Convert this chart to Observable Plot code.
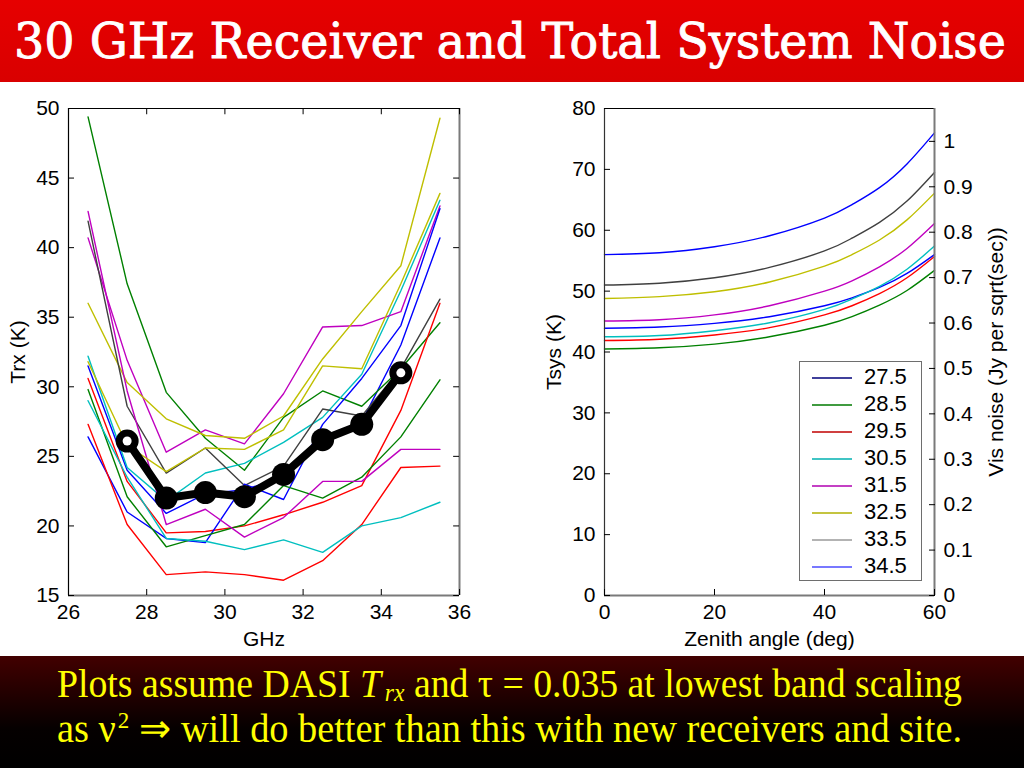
<!DOCTYPE html>
<html>
<head>
<meta charset="utf-8">
<script src="https://cdn.jsdelivr.net/npm/d3@7"></script>
<script src="https://cdn.jsdelivr.net/npm/@observablehq/plot@0.6"></script>
<style>
  body { margin: 0; background: #fff; }
  #slide { position: relative; width: 1024px; height: 768px; background: #fff; overflow: hidden; }
  .abs { position: absolute; }
  #legend { position: absolute; left: 799px; top: 361px; width: 121px; height: 218px; border: 1.5px solid #6e6e6e; background: #fff; font-family: 'Liberation Sans', Arial, sans-serif; font-size: 22px; }
  .lrow { position: absolute; left: 0; height: 27px; width: 121px; }
  .lrow svg { position: absolute; left: 12px; top: 12px; }
  .lrow span { position: absolute; left: 64px; top: 1px; line-height: 24px; }
</style>
</head>
<body>
<div id="slide">
  <svg class="abs" style="left:0;top:0;overflow:visible" width="1024" height="82">
    <defs><linearGradient id="tg" x1="0" y1="0" x2="0" y2="1"><stop offset="0" stop-color="#e60000"/><stop offset="1" stop-color="#d90000"/></linearGradient></defs>
    <rect width="1024" height="82" fill="url(#tg)"/>
    <text x="14" y="58" font-family="'DejaVu Serif', serif" font-size="48" fill="#fff" stroke="#fff" stroke-width="0.9" textLength="992" lengthAdjust="spacingAndGlyphs">30 GHz Receiver and Total System Noise</text>
  </svg>
  <div id="left" class="abs" style="left:0;top:82px"></div>
  <div id="right" class="abs" style="left:520px;top:82px"></div>
  <div id="legend"></div>
  <svg class="abs" style="left:0;top:656px" width="1024" height="112">
    <defs><linearGradient id="cg" x1="0" y1="0" x2="0" y2="1"><stop offset="0" stop-color="#420000"/><stop offset="0.65" stop-color="#050000"/><stop offset="1" stop-color="#000"/></linearGradient></defs>
    <rect width="1024" height="112" fill="url(#cg)"/>
    <text x="57" y="41" font-family="'Liberation Serif', 'Times New Roman', serif" font-size="40" fill="#ffff00" textLength="905" lengthAdjust="spacingAndGlyphs">Plots assume DASI <tspan font-style="italic">T</tspan><tspan font-style="italic" font-size="25" dx="4" dy="4">rx</tspan><tspan dy="-4"> and τ = 0.035 at lowest band scaling</tspan></text>
    <text x="57" y="86" font-family="'Liberation Serif', 'Times New Roman', serif" font-size="40" fill="#ffff00" textLength="905" lengthAdjust="spacingAndGlyphs">as ν<tspan font-size="24" dx="2" dy="-14">2</tspan><tspan dy="14"> ⇒ will do better than this with new receivers and site.</tspan></text>
  </svg>
</div>
<script>
// ---------- Left panel: receiver temperature vs frequency ----------
const freqs = [26.5, 27.5, 28.5, 29.5, 30.5, 31.5, 32.5, 33.5, 34.5, 35.5];
const rxBlue1    = [31.5, 24.0, 20.9, 22.3, 22.6, 23.5, 26.4, 27.5, 33.0, 40.7];
const rxGreen1   = [49.4, 37.4, 29.6, 26.3, 24.0, 27.8, 29.7, 28.6, 31.3, 34.6];
const rxRed1     = [30.6, 23.2, 19.5, 19.6, 20.0, 20.8, 21.7, 22.9, 28.3, 36.0];
const rxCyan1    = [32.2, 24.2, 21.8, 23.8, 24.5, 26.0, 27.8, 30.9, 36.9, 43.4];
const rxMagenta1 = [40.7, 31.9, 25.3, 26.9, 25.9, 29.5, 34.3, 34.4, 35.4, 43.0];
const rxYellow1  = [36.0, 30.3, 27.7, 26.5, 26.3, 27.9, 32.0, 35.4, 38.7, 49.3];
const rxGray     = [41.9, 28.6, 23.8, 25.6, 22.9, 24.3, 28.4, 27.9, 31.3, 36.3];
const rxBlue2    = [26.4, 21.0, 19.1, 18.8, 23.0, 21.9, 27.3, 30.6, 34.4, 42.8];
const rxGreen2   = [29.8, 22.1, 18.5, 19.3, 20.1, 22.9, 22.0, 23.5, 26.4, 30.5];
const rxRed2     = [27.3, 20.1, 16.5, 16.7, 16.5, 16.1, 17.5, 20.1, 24.2, 24.3];
const rxCyan2    = [29.0, 23.5, 19.1, 18.9, 18.3, 19.0, 18.1, 20.0, 20.6, 21.7];
const rxMagenta2 = [42.6, 29.7, 20.1, 21.2, 19.2, 20.6, 23.2, 23.2, 25.5, 25.5];
const rxYellow2  = [31.8, 25.8, 23.9, 25.6, 25.5, 26.9, 31.5, 31.3, 37.4, 43.9];
const rxSeries = [rxBlue1, rxGreen1, rxRed1, rxCyan1, rxMagenta1, rxYellow1, rxGray,
                  rxBlue2, rxGreen2, rxRed2, rxCyan2, rxMagenta2, rxYellow2];
const rxColors = ["#0000ff", "#008000", "#ff0000", "#00bfbf", "#bf00bf", "#bfbf00", "#404040",
                  "#0000ff", "#008000", "#ff0000", "#00bfbf", "#bf00bf", "#bfbf00"];

const meanFreqs = [27.5, 28.5, 29.5, 30.5, 31.5, 32.5, 33.5, 34.5];
const meanTrx   = [26.1, 22.0, 22.4, 22.1, 23.7, 26.2, 27.3, 31.0];

const leftXTicks = [26, 28, 30, 32, 34, 36];
const leftYTicks = [15, 20, 25, 30, 35, 40, 45, 50];

// ---------- Right panel: Tsys vs zenith angle ----------
const zenith  = [0, 10, 20, 30, 40, 45, 50, 55, 60];
const tsys275 = [43.9, 44.1, 44.7, 45.8, 47.6, 48.9, 50.6, 52.9, 56.0];
const tsys285 = [40.5, 40.7, 41.3, 42.5, 44.4, 45.8, 47.7, 50.1, 53.4];
const tsys295 = [41.9, 42.1, 42.8, 44.0, 46.1, 47.6, 49.6, 52.2, 55.7];
const tsys305 = [42.5, 42.7, 43.5, 44.8, 47.0, 48.7, 50.8, 53.6, 57.4];
const tsys315 = [45.1, 45.3, 46.1, 47.6, 50.0, 51.7, 54.0, 57.0, 61.1];
const tsys325 = [48.8, 49.1, 49.9, 51.5, 54.1, 56.0, 58.4, 61.7, 66.1];
const tsys335 = [51.0, 51.3, 52.2, 53.9, 56.6, 58.7, 61.3, 64.8, 69.5];
const tsys345 = [56.0, 56.3, 57.3, 59.1, 62.0, 64.2, 67.0, 70.9, 76.0];
const tsysSeries = [tsys275, tsys285, tsys295, tsys305, tsys315, tsys325, tsys335, tsys345];
const bands = ["27.5", "28.5", "29.5", "30.5", "31.5", "32.5", "33.5", "34.5"];
const bandColors  = ["#0000ff", "#008000", "#ff0000", "#00bfbf", "#bf00bf", "#bfbf00", "#404040", "#0000ff"];
const legendColors = ["#00007a", "#007a00", "#c00000", "#00b0b0", "#b000b0", "#b0b000", "#9a9a9a", "#7878ff"];

const rightXTicks = [0, 20, 40, 60];
const rightYTicks = [0, 10, 20, 30, 40, 50, 60, 70, 80];
const noiseTicks  = [0, 0.1, 0.2, 0.3, 0.4, 0.5, 0.6, 0.7, 0.8, 0.9, 1];
const kelvinPerNoise = 74.6; // right axis alignment

// ---------- build tables ----------
const rxData = rxSeries.flatMap((vals, i) => vals.map((t, j) => ({id: i, f: freqs[j], t, color: rxColors[i]})));
const meanData = meanFreqs.map((f, j) => ({f, t: meanTrx[j]}));
const meanEnds = [meanData[0], meanData[meanData.length - 1]];
const tsysData = tsysSeries.flatMap((vals, i) => vals.map((t, j) => ({band: bands[i], z: zenith[j], t, color: bandColors[i]})));

const font = "'Liberation Sans', Arial, Helvetica, sans-serif";
const baseStyle = {fontFamily: font, fontSize: "21px", color: "#000", background: "transparent", overflow: "visible"};

const left = Plot.plot({
  width: 479, height: 573,
  marginLeft: 68, marginRight: 20, marginTop: 26, marginBottom: 60,
  style: baseStyle,
  x: {domain: [26, 36]},
  y: {domain: [15, 50]},
  marks: [
    Plot.line(rxData, {x: "f", y: "t", z: "id", stroke: "color", strokeWidth: 1.4}),
    Plot.line(meanData, {x: "f", y: "t", stroke: "#000", strokeWidth: 8}),
    Plot.dot(meanData, {x: "f", y: "t", r: 11.5, fill: "#000"}),
    Plot.dot(meanEnds, {x: "f", y: "t", r: 4.5, fill: "#fff"}),
    Plot.ruleY([50], {stroke: "#000", strokeWidth: 1.2}),
    Plot.ruleX([26], {stroke: "#000", strokeWidth: 1.2}),
    Plot.ruleY([15], {stroke: "#7a7a7a", strokeWidth: 2}),
    Plot.ruleX([36], {stroke: "#7a7a7a", strokeWidth: 2}),
    Plot.axisX({ticks: leftXTicks, tickSize: -6, tickFormat: d => String(d), label: "GHz", labelAnchor: "center", labelArrow: "none", labelOffset: 50}),
    Plot.ruleX(leftXTicks, {x: d => d, y1: 50, y2: 49.55, stroke: "#000"}),
    Plot.axisY({ticks: leftYTicks, tickSize: -6, tickFormat: d => String(d), label: "Trx (K)", labelAnchor: "center", labelArrow: "none", labelOffset: 58}),
    Plot.ruleY(leftYTicks, {y: d => d, x1: 36, x2: 35.85, stroke: "#000"})
  ]
});
document.getElementById("left").appendChild(left);

const right = Plot.plot({
  width: 504, height: 573,
  marginLeft: 84, marginRight: 90, marginTop: 26, marginBottom: 60,
  style: baseStyle,
  x: {domain: [0, 60]},
  y: {domain: [0, 80]},
  marks: [
    Plot.line(tsysData, {x: "z", y: "t", z: "band", stroke: "color", strokeWidth: 1.4, curve: "natural"}),
    Plot.ruleY([80], {stroke: "#000", strokeWidth: 1.2}),
    Plot.ruleX([0], {stroke: "#333", strokeWidth: 1.2}),
    Plot.ruleY([0], {stroke: "#7a7a7a", strokeWidth: 2}),
    Plot.ruleX([60], {stroke: "#7a7a7a", strokeWidth: 2}),
    Plot.axisX({ticks: rightXTicks, tickSize: -6, tickFormat: d => String(d), label: "Zenith angle (deg)", labelAnchor: "center", labelArrow: "none", labelOffset: 50}),
    Plot.axisY({ticks: rightYTicks, tickSize: -6, tickFormat: d => String(d), label: "Tsys (K)", labelAnchor: "center", labelArrow: "none", labelOffset: 58}),
    Plot.axisY({ticks: noiseTicks.map(n => n * kelvinPerNoise), anchor: "right", tickSize: -6,
      tickFormat: d => String(+(d / kelvinPerNoise).toFixed(1)),
      label: "Vis noise (Jy per sqrt(sec))", labelAnchor: "center", labelArrow: "none", labelOffset: 68})
  ]
});
document.getElementById("right").appendChild(right);

// ---------- legend ----------
const legend = document.getElementById("legend");
bands.forEach((b, i) => {
  const row = document.createElement("div");
  row.className = "lrow";
  row.style.top = (2 + i * 27) + "px";
  row.innerHTML = `<svg width="40" height="4"><line x1="0" y1="2" x2="40" y2="2" stroke="${legendColors[i]}" stroke-width="${i === 7 ? 2 : 1.3}"/></svg><span>${b}</span>`;
  legend.appendChild(row);
});
</script>
</body>
</html>
